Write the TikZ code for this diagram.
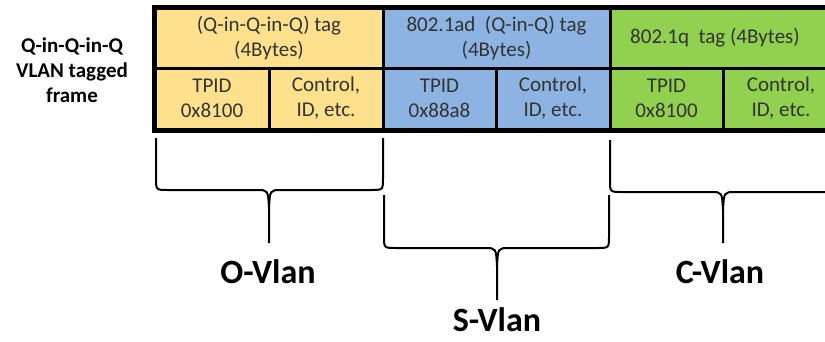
\documentclass[tikz,border=0pt]{standalone}
\usepackage{fontspec}
\setmainfont{Carlito}
\definecolor{tagyellow}{HTML}{FFE08C}
\definecolor{tagblue}{HTML}{8DB3E2}
\definecolor{taggreen}{HTML}{92D050}
\definecolor{celltext}{HTML}{333333}

\begin{document}
\begin{tikzpicture}[x=1pt,y=-1pt,
  cell/.style={draw=black,line width=3pt,align=center,text=celltext,inner sep=0pt,
    font=\fontsize{21}{25}\selectfont},
  frametitle/.style={align=center,font=\bfseries\fontsize{21}{25}\selectfont},
  vlan/.style={inner sep=0pt,font=\bfseries\fontsize{34}{36}\selectfont},
  brace/.style={line width=2pt}]
\clip (0,0) rectangle (825,341);
% tag header row
\node[cell,fill=tagyellow,minimum width=228pt,minimum height=60pt] (otag) at (269,38) {(Q-in-Q-in-Q) tag\\(4Bytes)};
\node[cell,fill=tagblue,minimum width=227pt,minimum height=60pt] (stag) at (496.5,38) {802.1ad~ (Q-in-Q) tag\\(4Bytes)};
\node[cell,fill=taggreen,minimum width=228pt,minimum height=60pt] (ctag) at (724,38) {802.1q~ tag (4Bytes)\hspace{18pt}};
% field row
\node[cell,fill=tagyellow,minimum width=114pt,minimum height=61pt] (otpid) at (212,98.5) {TPID\\0x8100};
\node[cell,fill=tagyellow,minimum width=114pt,minimum height=61pt] (octrl) at (326,98.5) {Control,\\ID, etc.};
\node[cell,fill=tagblue,minimum width=113pt,minimum height=61pt] (stpid) at (439.5,98.5) {TPID\\0x88a8};
\node[cell,fill=tagblue,minimum width=114pt,minimum height=61pt] (sctrl) at (553,98.5) {Control,\\ID, etc.};
\node[cell,fill=taggreen,minimum width=113pt,minimum height=61pt] (ctpid) at (666.5,98.5) {TPID\\0x8100};
\node[cell,fill=taggreen,minimum width=115pt,minimum height=61pt] (cctrl) at (781,98.5) {Control,\\ID, etc.};
\draw[line width=4pt] (otag.north west) rectangle (cctrl.south east);
\node[frametitle] (frame) at (72,70) {Q-in-Q-in-Q\\VLAN tagged\\frame};
% braces
\draw[brace] (156,138) -- (156,178) .. controls (156,190) .. (168,190) -- (257,190) .. controls (268,190) .. (269,208) -- (269,243);
\draw[brace] (383,138) -- (383,178) .. controls (383,190) .. (371,190) -- (281,190) .. controls (270,190) .. (269,208);
\draw[brace] (384,195) -- (384,236) .. controls (384,248) .. (396,248) -- (485,248) .. controls (496,248) .. (497,266) -- (497,300);
\draw[brace] (609,195) -- (609,236) .. controls (609,248) .. (597,248) -- (509,248) .. controls (498,248) .. (497,266);
\draw[brace] (610,140) -- (610,180) .. controls (610,192) .. (622,192) -- (711,192) .. controls (722,192) .. (723,210) -- (723,243);
\draw[brace] (837,140) -- (837,180) .. controls (837,192) .. (825,192) -- (735,192) .. controls (724,192) .. (723,210);
\node[vlan] (ovlan) at (268,272) {O-Vlan};
\node[vlan] (svlan) at (497,320) {S-Vlan};
\node[vlan] (cvlan) at (720,272) {C-Vlan};
\end{tikzpicture}
\end{document}
